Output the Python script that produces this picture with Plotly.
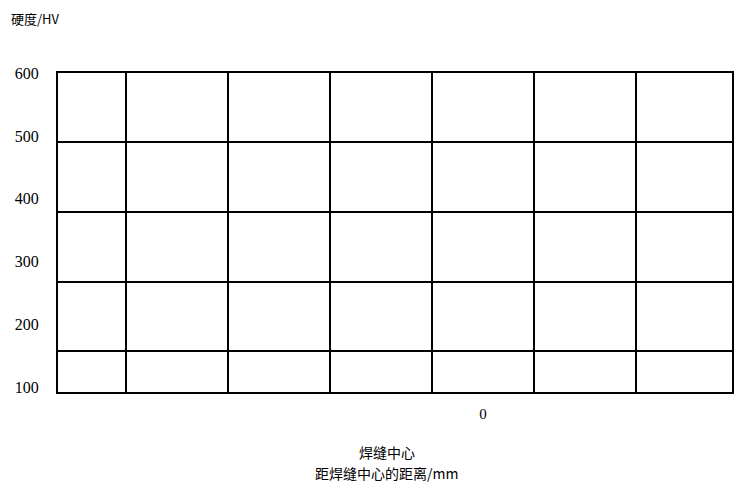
import plotly.graph_objects as go

# ---- data (empty chart frame as printed) ----
y_tick_values = [100, 200, 300, 400, 500, 600]
y_tick_labels = ["100", "200", "300", "400", "500", "600"]
x_tick_values = [0]
x_tick_labels = ["0"]
x_grid_values = [-7, -5, -3, -1, 1, 3]
y_grid_values = [157.3, 267.3, 378.9, 490.5]
x_range = [-8.33, 4.88]
y_range = [92, 600.5]

y_title = "硬度/HV"
x_title_line1 = "焊缝中心"
x_title_line2 = "距焊缝中心的距离/mm"

serif = "Liberation Serif"
cjk = "Noto Sans CJK SC"

fig = go.Figure()
fig.add_trace(go.Scatter(x=[], y=[], xaxis="x", yaxis="y", showlegend=False))
fig.add_trace(go.Scatter(x=[], y=[], xaxis="x2", yaxis="y2", showlegend=False))

# page body has an 8px margin, so the figure is sized to fill the 744x490 window
fig.update_layout(
    width=736, height=474,
    margin=dict(l=50, r=12, t=65, b=90, autoexpand=False),
    paper_bgcolor="white", plot_bgcolor="white",
    showlegend=False,
    xaxis=dict(
        range=x_range, tickvals=x_tick_values, ticktext=x_tick_labels,
        showgrid=False, zeroline=False, showline=True, linecolor="black",
        linewidth=2, mirror=True, ticks="", ticklabelstandoff=7,
        tickfont=dict(family=serif, size=15, color="black"),
    ),
    yaxis=dict(
        range=y_range, tickvals=y_tick_values, ticktext=y_tick_labels,
        showgrid=False, zeroline=False, showline=True, linecolor="black",
        linewidth=2, mirror=True, ticks="", ticklabelstandoff=14,
        tickfont=dict(family=serif, size=16, color="black"),
    ),
    xaxis2=dict(
        range=x_range, overlaying="x", tickvals=x_grid_values,
        showticklabels=False, showgrid=True, gridcolor="black", gridwidth=1.6,
        zeroline=False, showline=False,
    ),
    yaxis2=dict(
        range=y_range, overlaying="y", side="right", tickvals=y_grid_values,
        showticklabels=False, showgrid=True, gridcolor="black", gridwidth=1.6,
        zeroline=False, showline=True, linecolor="black", linewidth=2,
        ticks="",
    ),
    annotations=[
        dict(text=y_title, xref="paper", yref="paper", x=-0.072, y=1.170,
             xanchor="left", yanchor="middle", showarrow=False,
             font=dict(family=cjk, size=13, color="black")),
        dict(text=x_title_line1, xref="paper", yref="paper", x=0.488, y=-0.188,
             xanchor="center", yanchor="middle", showarrow=False,
             font=dict(family=cjk, size=14, color="black")),
        dict(text=x_title_line2, xref="paper", yref="paper", x=0.488, y=-0.254,
             xanchor="center", yanchor="middle", showarrow=False,
             font=dict(family=cjk, size=14, color="black")),
    ],
)

fig.write_html("out.html")
